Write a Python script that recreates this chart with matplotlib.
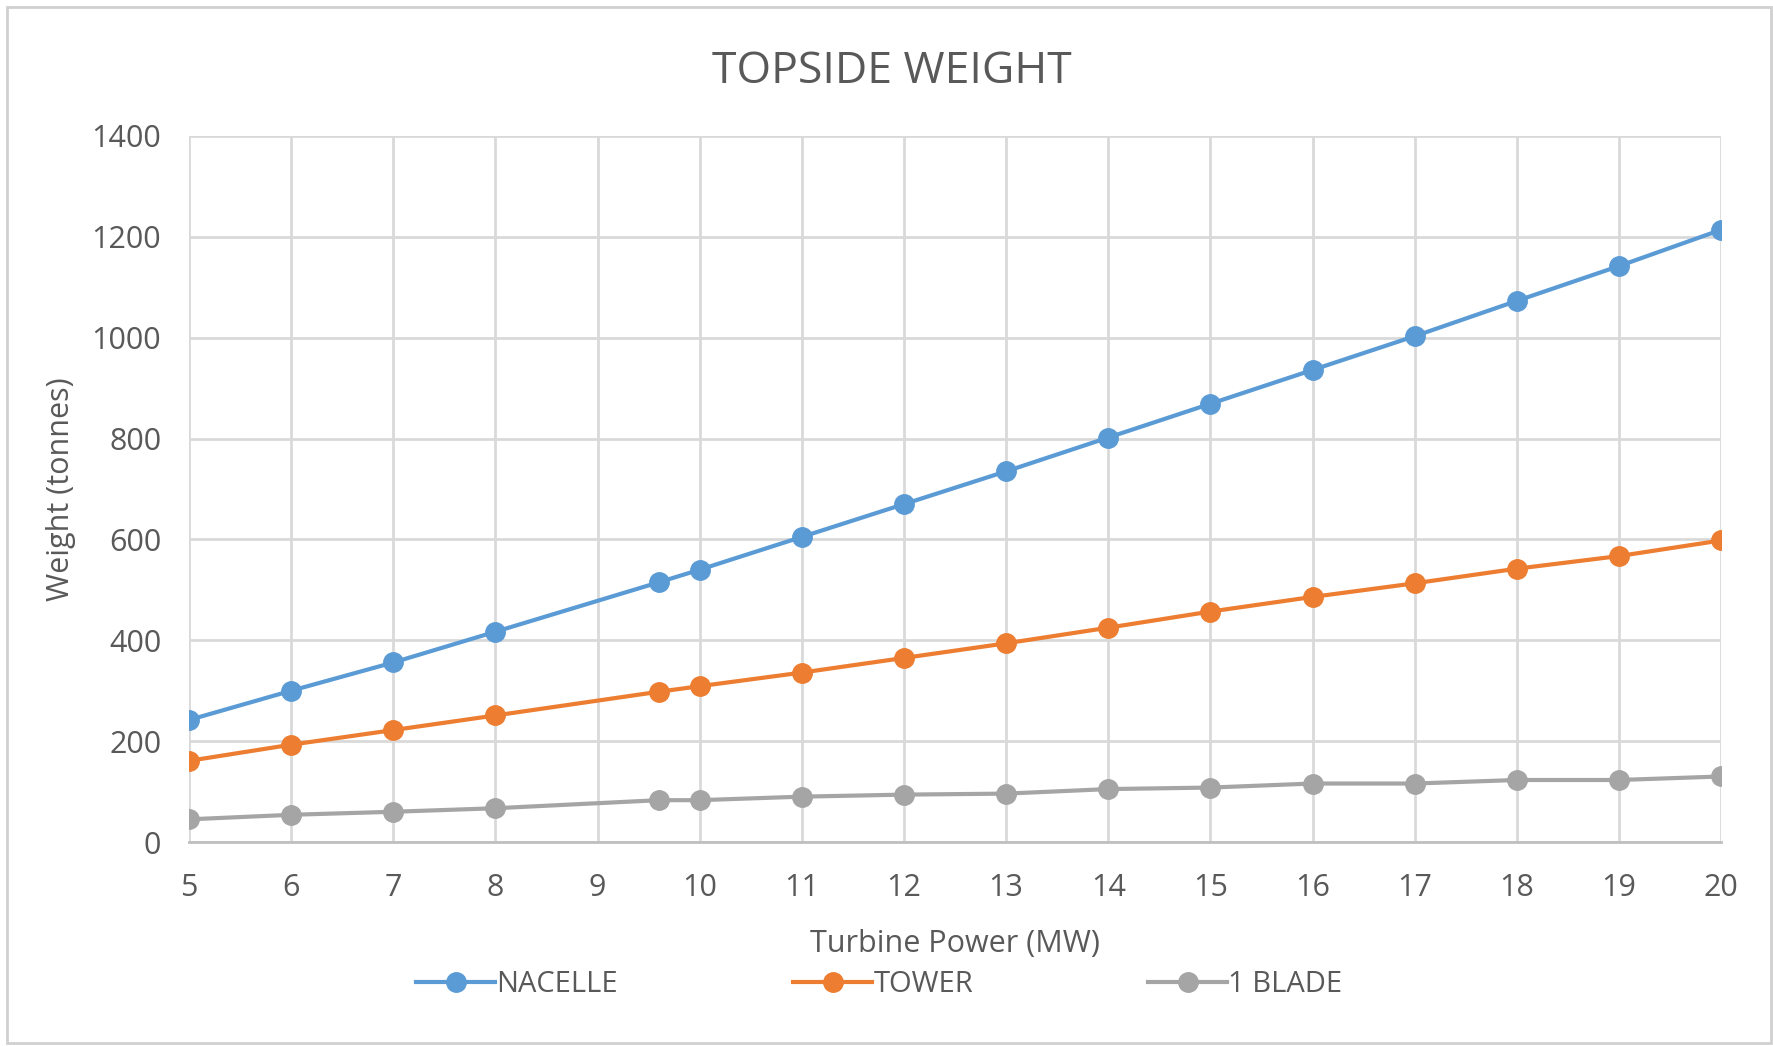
import matplotlib
matplotlib.use("Agg")
import matplotlib.pyplot as plt
from matplotlib.patches import Rectangle

# turbine power (MW) and component weights (tonnes)
power = [5, 6, 7, 8, 9.6, 10, 11, 12, 13, 14, 15, 16, 17, 18, 19, 20]
nacelle = [242, 300, 356, 417, 515, 540, 605, 670, 735, 802, 869, 936, 1003, 1073, 1142, 1214]
tower = [161, 193, 222, 251, 298, 309, 336, 365, 394, 425, 457, 486, 513, 542, 567, 598]
blade = [45, 54, 60, 67, 83, 83, 90, 94, 96, 105, 108, 116, 116, 123, 123, 130]

series_names = ["NACELLE", "TOWER", "1 BLADE"]
colors = ["#5B9BD5", "#ED7D31", "#A5A5A5"]
x_ticks = list(range(5, 21))
y_ticks = list(range(0, 1401, 200))

plt.rcParams['font.family'] = ['Open Sans', 'DejaVu Sans']
text_col = "#595959"

fig = plt.figure(figsize=(17.73, 10.46), dpi=100)
ax = fig.add_axes([0.1066, 0.195, 0.8641, 0.675])

for ys, name, c in zip([nacelle, tower, blade], series_names, colors):
    ax.plot(power, ys, color=c, lw=3, marker="o", ms=14, label=name, zorder=3)

ax.set_xlim(5, 20)
ax.set_ylim(0, 1400)
ax.set_xticks(x_ticks)
ax.set_yticks(y_ticks)
ax.grid(True, color="#D9D9D9", lw=2)
ax.set_axisbelow(True)
for s in ["top", "right", "left"]:
    ax.spines[s].set_visible(False)
ax.spines["bottom"].set_color("#BFBFBF")
ax.spines["bottom"].set_linewidth(2)
ax.tick_params(length=0, labelsize=22, labelcolor=text_col)
ax.tick_params(axis="x", pad=22)
ax.tick_params(axis="y", pad=20)

ax.set_xlabel("Turbine Power (MW)", fontsize=22, color=text_col, labelpad=19)
ax.set_ylabel("Weight (tonnes)", fontsize=22, color=text_col, labelpad=11)
fig.text(0.503, 0.931, "TOPSIDE WEIGHT", fontsize=32, color=text_col, ha="center", va="center")

leg = fig.legend(loc="center", bbox_to_anchor=(0.496, 0.059), ncol=3, frameon=False,
                 fontsize=21, labelcolor=text_col, handlelength=2.7, handletextpad=0.05,
                 columnspacing=6)

fig.patches.append(Rectangle((0.004, 0.003), 0.995, 0.99, transform=fig.transFigure,
                             fill=False, edgecolor="#D0D0D0", lw=2))

fig.savefig("out.png", dpi=100)
